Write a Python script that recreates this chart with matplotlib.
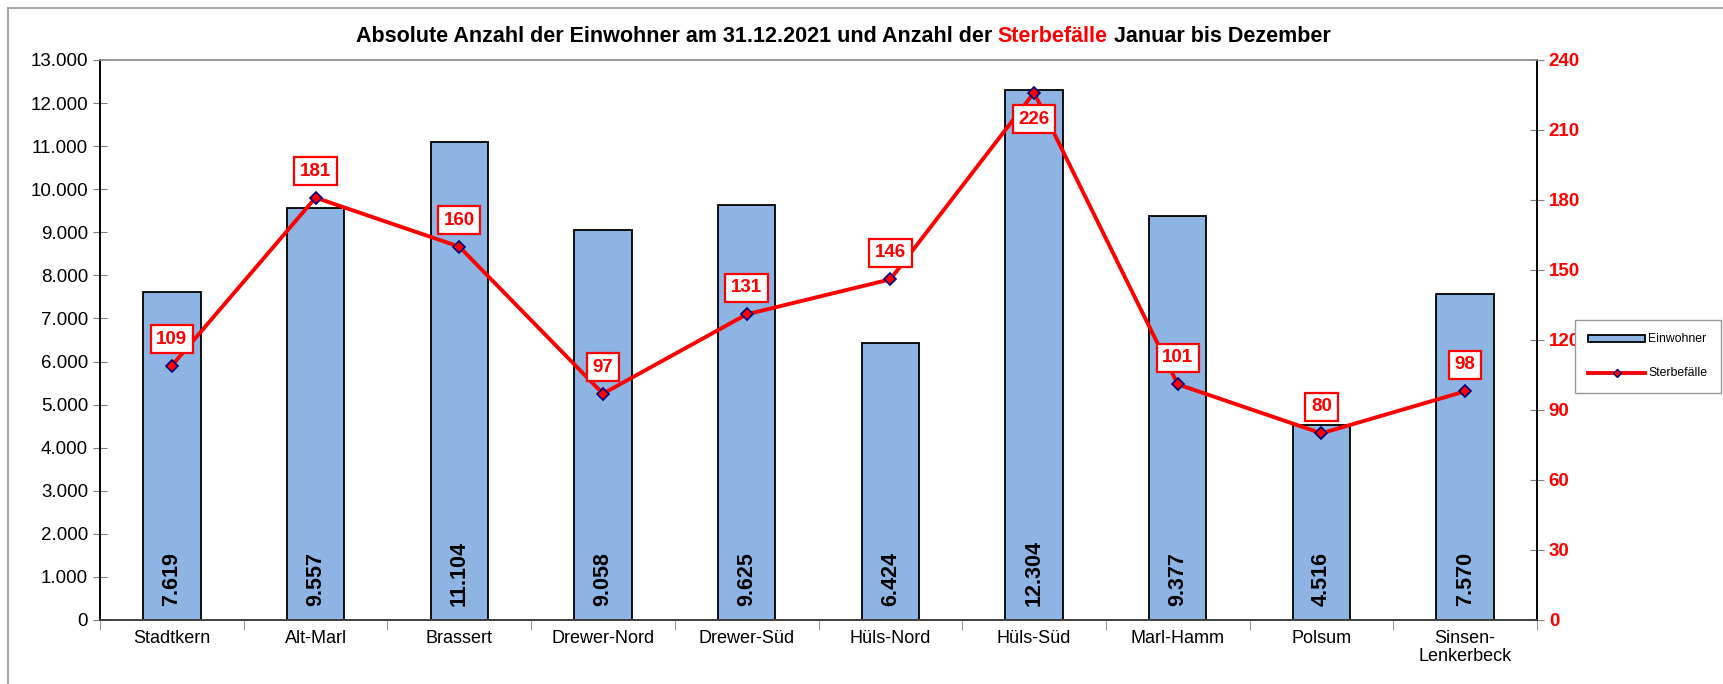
#!/usr/bin/env python3
import matplotlib
matplotlib.use("Agg")
import matplotlib.pyplot as plt
from matplotlib.patches import Patch, Rectangle
from matplotlib.lines import Line2D
from matplotlib.ticker import FuncFormatter, MultipleLocator

plt.rcParams["font.family"] = ["Liberation Sans", "DejaVu Sans"]

districts = ["Stadtkern", "Alt-Marl", "Brassert", "Drewer-Nord", "Drewer-Süd",
             "Hüls-Nord", "Hüls-Süd", "Marl-Hamm", "Polsum", "Sinsen-\nLenkerbeck"]
einwohner = [7619, 9557, 11104, 9058, 9625, 6424, 12304, 9377, 4516, 7570]
sterbefaelle = [109, 181, 160, 97, 131, 146, 226, 101, 80, 98]

BAR_COLOR = "#8EB4E3"
RED = "#FF0000"


def de_thousands(v, _pos=None):
    return f"{int(round(v)):,}".replace(",", ".")


def main() -> None:
    fig = plt.figure(figsize=(17.23, 6.84), dpi=100)
    ax = fig.add_axes([100 / 1723, 1 - 620 / 684, (1537 - 100) / 1723, (620 - 60) / 684])
    ax2 = ax.twinx()

    x = list(range(len(districts)))
    ax.bar(x, einwohner, width=0.4, color=BAR_COLOR, edgecolor="black", linewidth=1.3, zorder=2)
    for xi, v in zip(x, einwohner):
        ax.annotate(de_thousands(v), (xi, 0), xytext=(0, 10), textcoords="offset points",
                    rotation=90, ha="center", va="bottom", fontsize=15.5, fontweight="bold")

    ax.set_xlim(-0.5, len(districts) - 0.5)
    ax.set_ylim(0, 13000)
    ax.yaxis.set_major_locator(MultipleLocator(1000))
    ax.yaxis.set_major_formatter(FuncFormatter(de_thousands))
    ax.set_xticks(x)
    ax.set_xticklabels(districts, fontsize=13, linespacing=1.1)
    ax.tick_params(axis="x", which="major", length=0, pad=7)
    ax.set_xticks([i - 0.5 for i in range(len(districts) + 1)], minor=True)
    ax.tick_params(axis="x", which="minor", length=7, color="#808080", direction="out")
    ax.tick_params(axis="y", labelsize=13.5, length=10, direction="inout", color="#808080")

    ax2.plot(x, sterbefaelle, color=RED, linewidth=2.8, marker="D", markersize=6,
             markerfacecolor=RED, markeredgecolor="#000080", markeredgewidth=1.2, zorder=3)
    for xi, v in zip(x, sterbefaelle):
        dy = -19 if v == max(sterbefaelle) else 19
        ax2.annotate(str(v), (xi, v), xytext=(0, dy), textcoords="offset points",
                     ha="center", va="center", fontsize=13.5, fontweight="bold", color=RED,
                     bbox=dict(boxstyle="square,pad=0.3", facecolor="white",
                               edgecolor=RED, linewidth=1.6), zorder=4)
    ax2.set_ylim(0, 240)
    ax2.yaxis.set_major_locator(MultipleLocator(30))
    ax2.tick_params(axis="y", labelsize=13.5, labelcolor=RED, length=10,
                    direction="inout", color="#808080")
    for lbl in ax2.get_yticklabels():
        lbl.set_fontweight("bold")

    for a in (ax, ax2):
        a.spines["top"].set_color("#999999")
        a.spines["bottom"].set_color("#404040")
        a.spines["left"].set_color("black")
        a.spines["right"].set_color("black")
        for s in a.spines.values():
            s.set_linewidth(1.2)

    # title with the red word in the middle
    parts = [("Absolute Anzahl der Einwohner am 31.12.2021 und Anzahl der ", "black"),
             ("Sterbefälle", RED),
             (" Januar bis Dezember", "black")]
    fig.canvas.draw()
    renderer = fig.canvas.get_renderer()
    texts = [fig.text(0, 1 - 36 / 684, s, color=c, fontsize=15.5, fontweight="bold",
                      va="center", ha="left") for s, c in parts]
    widths = [t.get_window_extent(renderer).width for t in texts]
    start = 843 - sum(widths) / 2
    for t, w in zip(texts, widths):
        t.set_x(start / 1723)
        start += w

    handles = [Patch(facecolor=BAR_COLOR, edgecolor="black", linewidth=1.3),
               Line2D([], [], color=RED, linewidth=2.8, marker="D", markersize=4.5,
                      markerfacecolor=RED, markeredgecolor="#000080")]
    fig.legend(handles, ["Einwohner", "Sterbefälle"], loc="upper left",
               bbox_to_anchor=(1575 / 1723, 1 - 320 / 684), fontsize=8.8,
               frameon=True, fancybox=False, edgecolor="#999999", framealpha=1,
               handlelength=4.6, handleheight=0.5, labelspacing=1.8,
               borderpad=1.1, handletextpad=0.3, borderaxespad=0)

    fig.patches.append(Rectangle((8 / 1723, -0.1), 1.2, 1.1 - 8 / 684, fill=False,
                                 edgecolor="#AAAAAA", linewidth=1.5,
                                 transform=fig.transFigure))

    fig.savefig("out.png", dpi=100)


if __name__ == "__main__":
    main()
